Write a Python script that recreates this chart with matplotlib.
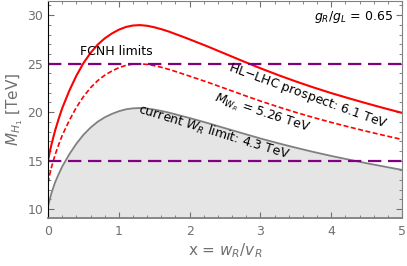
import numpy as np
import matplotlib
matplotlib.use("Agg")
import matplotlib.pyplot as plt
from matplotlib.ticker import MultipleLocator

# x = w_R / v_R
x = [0, 0.025, 0.05, 0.1, 0.15, 0.2, 0.3, 0.4, 0.5, 0.6, 0.7, 0.8, 0.9, 1.0,
     1.1, 1.2, 1.3, 1.4, 1.5, 1.6, 1.7, 1.8, 1.9, 2.0, 2.25, 2.5, 2.75, 3.0,
     3.25, 3.5, 3.75, 4.0, 4.25, 4.5, 4.75, 5.0]
# HL-LHC prospect, M_WR = 6.1 TeV
m_hl = [15.0, 15.9, 16.7, 18.1, 19.3, 20.4, 22.2, 23.75, 25.05, 26.1, 26.95,
        27.6, 28.1, 28.5, 28.78, 28.93, 28.97, 28.9, 28.75, 28.55, 28.32, 28.05,
        27.78, 27.5, 26.78, 26.02, 25.26, 24.52, 23.82, 23.16, 22.54, 21.96,
        21.42, 20.9, 20.4, 19.92]
# M_WR = 5.26 TeV
m_526 = [12.7, 13.6, 14.35, 15.6, 16.64, 17.59, 19.14, 20.48, 21.6, 22.51, 23.24,
         23.8, 24.23, 24.58, 24.82, 24.95, 24.98, 24.92, 24.79, 24.62, 24.42,
         24.19, 23.95, 23.71, 23.09, 22.44, 21.78, 21.14, 20.54, 19.97, 19.44,
         18.94, 18.47, 18.02, 17.59, 17.18]
# current W_R limit 4.3 TeV
m_cur = [10.3, 11.0, 11.7, 12.76, 13.6, 14.38, 15.65, 16.74, 17.66, 18.4, 19.0,
         19.46, 19.81, 20.09, 20.29, 20.39, 20.42, 20.37, 20.26, 20.12, 19.96,
         19.77, 19.58, 19.39, 18.88, 18.34, 17.81, 17.28, 16.79, 16.33, 15.89,
         15.48, 15.1, 14.73, 14.38, 14.04]
fcnh = [25, 15]

fig = plt.figure(figsize=(4.07, 2.66), dpi=100)
ax = fig.add_axes([0.118, 0.18, 0.87, 0.816])

ax.fill_between(x, 0, m_cur, color='#e5e5e5', lw=0)
ax.plot(x, m_cur, color='#808080', lw=1.3)
ax.plot(x, m_hl, color='red', lw=1.5)
ax.plot(x, m_526, color='red', lw=1.2, ls=(0, (3, 1.5)))
for v in fcnh:
    ax.axhline(v, color='#800080', lw=1.6, ls=(0, (6, 3)))

ax.set_xlim(0, 5)
ax.set_ylim(9.07, 31.45)
ax.xaxis.set_major_locator(MultipleLocator(1))
ax.xaxis.set_minor_locator(MultipleLocator(0.2))
ax.yaxis.set_major_locator(MultipleLocator(5))
ax.yaxis.set_minor_locator(MultipleLocator(1))
ax.tick_params(which='both', direction='in', top=True, right=True,
               colors='#707070', labelcolor='#707070', labelsize=9)
ax.tick_params(which='major', length=4, width=0.8)
ax.tick_params(which='minor', length=2.2, width=0.6)
ax.tick_params(axis='x', pad=5)
for s in ['top', 'right', 'bottom']:
    ax.spines[s].set_color('#808080')
ax.spines['left'].set_color('black')
ax.spines['bottom'].set_linewidth(1.3)

ax.set_xlabel(r'x = $w_R/v_R$', color='#707070', fontsize=11, labelpad=2)
ax.set_ylabel(r'$M_{H_1}$ [TeV]', color='#707070', fontsize=11, labelpad=2)

ax.text(0.96, 26.2, 'FCNH limits', fontsize=9, ha='center', va='center')
ax.text(4.87, 29.8, r'$g_R/g_L$ = 0.65', fontsize=9, ha='right', va='center')
ax.text(3.67, 21.65, 'HL$-$LHC prospect: 6.1 TeV', fontsize=9, ha='center',
        va='center', rotation=-20, rotation_mode='anchor')
ax.text(3.02, 19.9, r'$M_{W_R}$ = 5.26 TeV', fontsize=9, ha='center',
        va='center', rotation=-18, rotation_mode='anchor')
ax.text(2.34, 17.9, r'current $W_R$ limit: 4.3 TeV', fontsize=9, ha='center',
        va='center', rotation=-17, rotation_mode='anchor')

fig.savefig('out.png', dpi=100)
